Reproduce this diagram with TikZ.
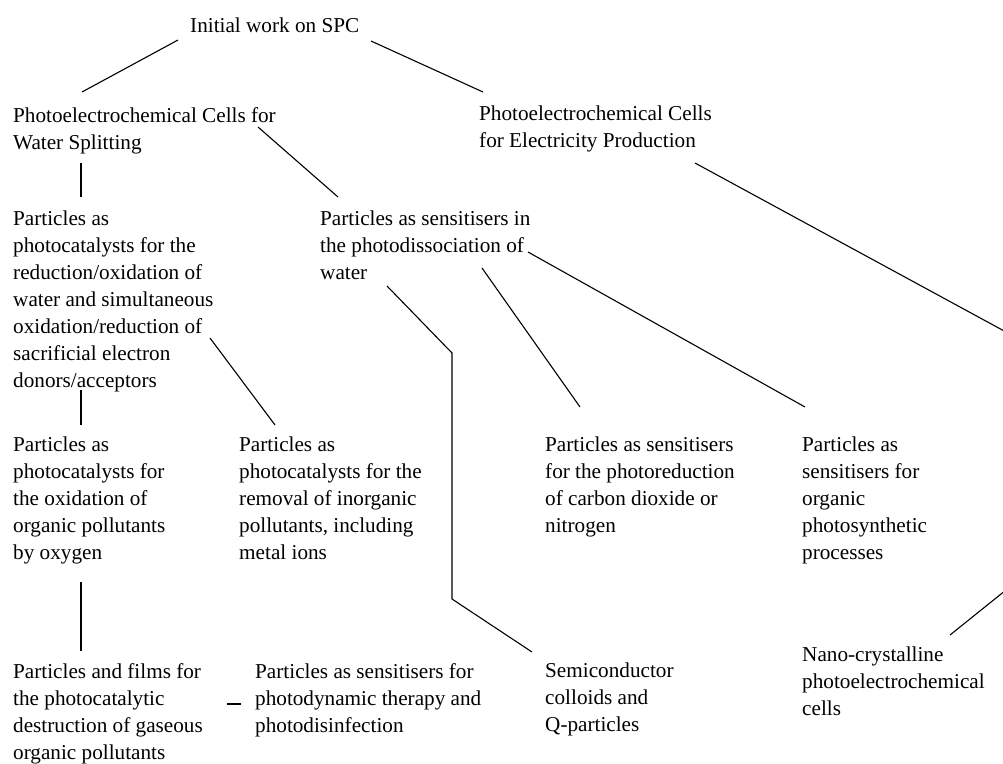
\documentclass[tikz,border=0pt]{standalone}
\usepackage{fontspec}
\setmainfont{Liberation Serif}
\usetikzlibrary{calc}

\begin{document}
\begin{tikzpicture}[x=1pt, y=-1pt, every node/.style={align=left, anchor=north west, inner sep=0pt, font=\fontsize{21.2}{27}\selectfont}, link/.style={line width=1.1pt}]
\useasboundingbox (0,0) rectangle (1003,763);
\node (spc) at (190,18) {Initial work on SPC};
\node (pecwater) at (13,107) {Photoelectrochemical Cells for\\Water Splitting};
\node (pecelec) at (479,106) {Photoelectrochemical Cells\\for Electricity Production};
\node (catwater) at (13,211) {Particles as\\photocatalysts for the\\reduction/oxidation of\\water and simultaneous\\oxidation/reduction of\\sacrificial electron\\donors/acceptors};
\node (sensdiss) at (320,211) {Particles as sensitisers in\\the photodissociation of\\water};
\node (catorg) at (13,437) {Particles as\\photocatalysts for\\the oxidation of\\organic pollutants\\by oxygen};
\node (catinorg) at (239,437) {Particles as\\photocatalysts for the\\removal of inorganic\\pollutants, including\\metal ions};
\node (sensco2) at (545,437) {Particles as sensitisers\\for the photoreduction\\of carbon dioxide or\\nitrogen};
\node (sensorg) at (802,437) {Particles as\\sensitisers for\\organic\\photosynthetic\\processes};
\node (films) at (13,663) {Particles and films for\\the photocatalytic\\destruction of gaseous\\organic pollutants};
\node (pdt) at (255,663) {Particles as sensitisers for\\photodynamic therapy and\\photodisinfection};
\node (colloids) at (545,663) {Semiconductor\\colloids and\\Q-particles};
\node (nano) at (802,647) {Nano-crystalline\\photoelectrochemical\\cells};
\coordinate (qtop) at (452,353);
\coordinate (qbot) at (452,599);
\coordinate (edgetop) at (1006,332);
\coordinate (edgebot) at (1006,590);
\draw[link] ($(spc.north west)+(-12,22)$) -- ($(pecwater.north west)+(69,-15)$);
\draw[link] ($(spc.north west)+(181,23)$) -- ($(pecelec.north west)+(4,-14)$);
\draw[link] ($(pecwater.north west)+(68,56)$) -- ($(catwater.north west)+(68,-14)$);
\draw[link] ($(pecwater.north west)+(245,20)$) -- ($(sensdiss.north west)+(18,-14)$);
\draw[link] ($(catwater.north west)+(68,179)$) -- ($(catorg.north west)+(68,-12)$);
\draw[link] ($(catwater.north west)+(197,127)$) -- ($(catinorg.north west)+(36,-12)$);
\draw[link] ($(sensdiss.north west)+(67,75)$) -- (qtop) -- (qbot) -- ($(colloids.north west)+(-13,-11)$);
\draw[link] ($(sensdiss.north west)+(162,57)$) -- ($(sensco2.north west)+(35,-30)$);
\draw[link] ($(sensdiss.north west)+(208,41)$) -- ($(sensorg.north west)+(3,-30)$);
\draw[link] ($(pecelec.north west)+(216,57)$) -- (edgetop) -- (edgebot) -- ($(nano.north west)+(148,-12)$);
\draw[link] ($(catorg.north west)+(68,145)$) -- ($(films.north west)+(68,-12)$);
\draw[link] ($(films.north west)+(214,41)$) -- ($(pdt.north west)+(-14,41)$);
\end{tikzpicture}
\end{document}
